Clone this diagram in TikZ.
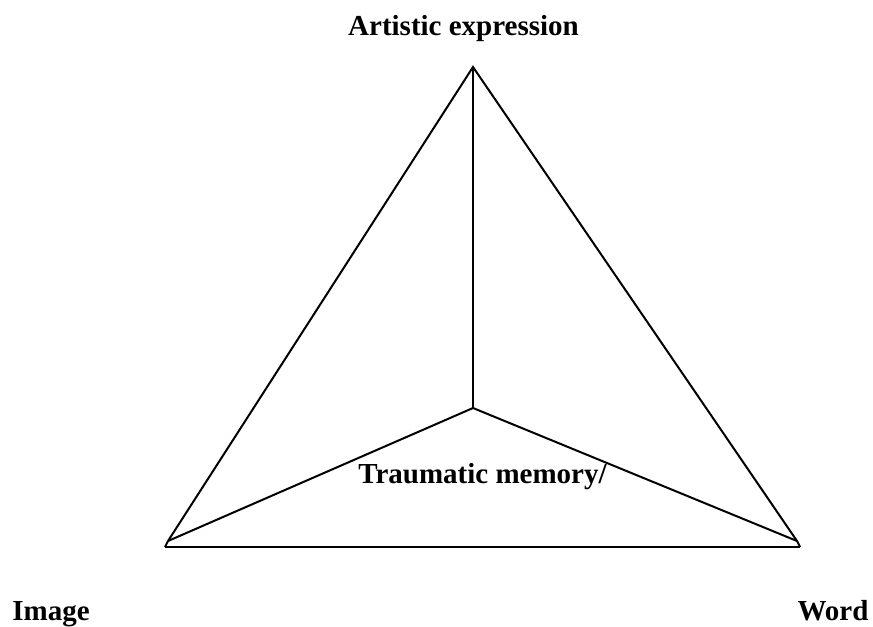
\documentclass[tikz,border=0pt]{standalone}
\usepackage{fontspec}
\setmainfont{Liberation Serif}
\usepackage{tikz}
\usetikzlibrary{positioning, calc}

\begin{document}
\begin{tikzpicture}[
  x=0.75pt, y=0.75pt,
  edge/.style={draw=black, line width=1.5pt},
  lbl/.style={inner sep=0pt, anchor=base, font=\fontsize{21.75}{26}\selectfont\bfseries}
]
  \useasboundingbox (0,0) rectangle (873,626);
  % corners of the triangle
  \coordinate (apex) at (473,559);
  \coordinate (imgc) at (168,85);
  \coordinate (wrdc) at (797,85);
  \coordinate (centre) at (473,218);
  \coordinate (baseL) at (165,79);
  \coordinate (baseR) at (800,79);

  \draw[edge] (imgc) -- (apex) -- (wrdc);
  \draw[edge] (apex) -- (centre);
  \draw[edge] (imgc) -- (centre) -- (wrdc);
  \draw[edge] (imgc) -- (baseL);
  \draw[edge] (wrdc) -- (baseR);
  \draw[edge, line width=2pt] (baseL) -- (baseR);

  \node[lbl] (artistic) at (463.5,590) {Artistic expression};
  \node[lbl] (trauma) at (482.5,143) {Traumatic memory/};
  \node[lbl] (image) at (51,6) {Image};
  \node[lbl] (word) at (833,6) {Word};
\end{tikzpicture}
\end{document}
